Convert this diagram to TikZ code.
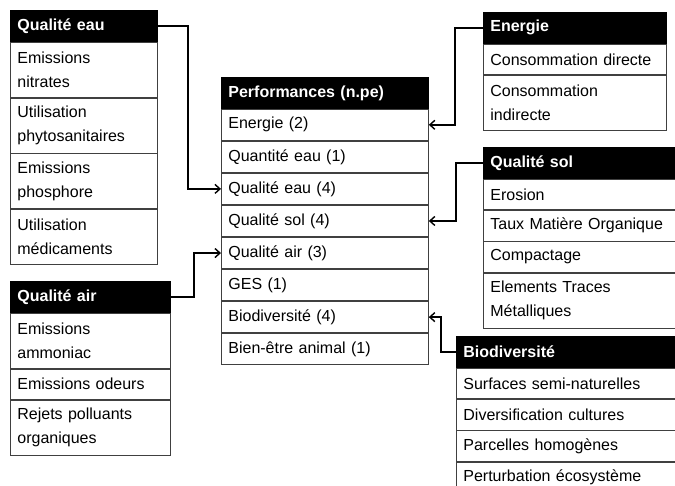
\documentclass[tikz,border=0pt]{standalone}
\usepackage{fontspec}
\setmainfont{Liberation Sans}
\usetikzlibrary{arrows.meta, positioning}

\begin{document}
\begin{tikzpicture}[
  x=1pt, y=1pt,
  hdr/.style={
    rectangle, draw=black, fill=black, line width=0.8pt, text=white,
    text width=#1, inner xsep=7pt, inner ysep=0pt, minimum height=31pt,
    align=left, font=\fontsize{16}{24}\selectfont\bfseries
  },
  item/.style={
    rectangle, draw=black!75, fill=white, line width=0.8pt,
    text width=#1, inner xsep=7pt, inner ysep=0pt, minimum height=30.5pt,
    align=left, font=\fontsize{16}{24}\selectfont
  },
  tall/.style={minimum height=55pt},
  link/.style={-{Straight Barb[length=5pt,width=9pt]}, line width=1.4pt, draw=black}
]

% ---- page frame ----
\useasboundingbox (0,0) rectangle (675,-486);
\clip (0,0) rectangle (675,-486);
\fill[white] (0,0) rectangle (675,-486);

% ---- Performances in the middle ----
\node[hdr=193, anchor=north west] (p0) at (221,-77) {Performances (n.pe)};
\foreach \lbl [count=\i, remember=\i as \j (initially 0)] in
  {Energie (2), Quantité eau (1), Qualité eau (4), Qualité sol (4),
   Qualité air (3), GES (1), Biodiversité (4), Bien-être animal (1)}
  \node[item=193, minimum height=31.25pt, below=0pt of p\j] (p\i) {\lbl};

% ---- Qualite eau (top left) ----
\node[hdr=133, anchor=north west] (qeau) at (10,-10) {Qualité eau};
\node[item=133, tall, below=0pt of qeau] (qeau1) {Emissions\\nitrates};
\node[item=133, tall, below=0pt of qeau1] (qeau2) {Utilisation\\phytosanitaires};
\node[item=133, tall, below=0pt of qeau2] (qeau3) {Emissions\\phosphore};
\node[item=133, tall, below=0pt of qeau3] (qeau4) {Utilisation\\médicaments};

% ---- Qualite air (bottom left) ----
\node[hdr=146, anchor=north west] (qair) at (10,-281) {Qualité air};
\node[item=146, tall, below=0pt of qair] (qair1) {Emissions\\ammoniac};
\node[item=146, below=0pt of qair1] (qair2) {Emissions odeurs};
\node[item=146, tall, below=0pt of qair2] (qair3) {Rejets polluants\\organiques};

% ---- Energie (top right) ----
\node[hdr=169, anchor=north west] (ener) at (483,-12) {Energie};
\node[item=169, below=0pt of ener] (ener1) {Consommation directe};
\node[item=169, tall, below=0pt of ener1] (ener2) {Consommation\\indirecte};

% ---- Qualite sol (right) ----
\node[hdr=186, anchor=north west] (qsol) at (483,-147) {Qualité sol};
\node[item=186, below=0pt of qsol] (qsol1) {Erosion};
\node[item=186, below=0pt of qsol1] (qsol2) {Taux Matière Organique};
\node[item=186, below=0pt of qsol2] (qsol3) {Compactage};
\node[item=186, tall, below=0pt of qsol3] (qsol4) {Elements Traces\\Métalliques};

% ---- Biodiversite (bottom right) ----
\node[hdr=211, anchor=north west] (biod) at (456,-336) {Biodiversité};
\node[item=211, below=0pt of biod] (biod1) {Surfaces semi-naturelles};
\node[item=211, below=0pt of biod1] (biod2) {Diversification cultures};
\node[item=211, below=0pt of biod2] (biod3) {Parcelles homogènes};
\node[item=211, below=0pt of biod3] (biod4) {Perturbation écosystème};

% ---- Links to the performance rows ----
\draw[link] (qeau.east) -- ++(30,0) |- (p3.west);
\draw[link] (qair.east) -- ++(23,0) |- (p5.west);
\draw[link] (ener.west) -- ++(-28,0) |- (p1.east);
\draw[link] (qsol.west) -- ++(-27,0) |- (p4.east);
\draw[link] (biod.west) -- ++(-15,0) |- (p7.east);

\end{tikzpicture}
\end{document}
